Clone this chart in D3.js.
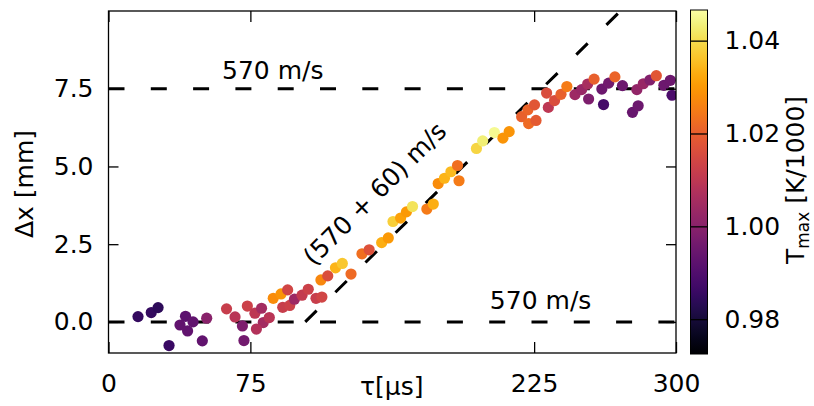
<!DOCTYPE html>
<html>
<head>
<meta charset="utf-8">
<script src="https://cdn.jsdelivr.net/npm/d3@7"></script>
<style>
  html, body { margin: 0; padding: 0; background: #fff; }
  svg { display: block; font-family: "DejaVu Sans", sans-serif; }
</style>
</head>
<body>
<svg id="chart" width="814" height="406"></svg>
<script>
// ---------------- data ----------------
const tau = [15.6, 22.6, 26.2, 32.0, 40.7, 37.8, 41.8, 44.7, 49.6, 51.9,
  62.4, 66.9, 70.8, 71.6, 73.4, 77.4, 80.9, 81.8, 78.2, 85.0,
  87.1, 91.2, 94.7, 92.1, 95.8, 98.3, 102.3, 105.6, 109.7, 112.8,
  112.3, 115.9, 120.0, 123.6, 128.2, 134.0, 137.8, 144.4, 147.9, 150.4,
  154.4, 157.5, 160.7, 168.3, 171.7, 174.3, 177.6, 181.0, 184.5, 185.3,
  194.5, 197.8, 204.0, 208.5, 211.8, 218.4, 222.1, 221.7, 225.2, 226.0,
  231.6, 232.5, 235.8, 239.2, 242.3, 246.6, 250.1, 253.3, 256.7, 253.8,
  261.7, 260.8, 264.4, 267.7, 271.7, 277.0, 280.0, 279.3, 282.7, 286.2,
  289.6, 293.6, 297.0, 297.9];
const dx = [0.17, 0.30, 0.46, -0.76, 0.18, -0.10, -0.29, 0.00, -0.61, 0.12,
  0.42, 0.16, -0.13, -0.60, 0.51, 0.28, 0.44, -0.02, -0.23, 0.14,
  0.76, 0.90, 1.03, 0.47, 0.53, 0.73, 0.86, 1.05, 0.76, 0.80,
  1.35, 1.48, 1.74, 1.88, 1.54, 2.19, 2.32, 2.55, 2.70, 3.23,
  3.34, 3.54, 3.71, 3.63, 3.79, 4.45, 4.62, 4.83, 5.03, 4.54,
  5.58, 5.82, 6.09, 5.91, 6.12, 6.60, 6.38, 6.82, 6.98, 6.48,
  7.36, 6.90, 7.12, 7.32, 7.57, 7.31, 7.47, 7.65, 7.81, 7.17,
  6.99, 7.49, 7.68, 7.88, 7.60, 6.74, 6.95, 7.47, 7.66, 7.78,
  7.92, 7.61, 7.77, 7.29];
const tmax = [0.985, 0.985, 0.984, 0.986, 0.992, 0.993, 0.993, 0.993, 0.993, 1.000,
  1.012, 1.009, 0.998, 0.996, 1.013, 1.010, 1.005, 1.005, 1.008, 1.009,
  1.028, 1.029, 1.014, 1.012, 1.013, 1.004, 1.011, 1.013, 1.012, 1.014,
  1.027, 1.016, 1.034, 1.037, 1.022, 1.023, 1.017, 1.033, 1.030, 1.038,
  1.031, 1.030, 1.041, 1.025, 1.033, 1.028, 1.034, 1.035, 1.023, 1.025,
  1.039, 1.043, 1.045, 1.029, 1.029, 1.020, 1.022, 1.021, 1.018, 1.019,
  1.016, 1.010, 1.016, 1.020, 1.025, 1.004, 1.003, 1.006, 1.020, 0.998,
  0.988, 0.995, 0.996, 1.021, 0.995, 0.994, 0.995, 1.002, 1.003, 0.999,
  1.018, 0.995, 0.995, 0.989];

const xTicks = [0, 75, 225, 300];
const yTicks = [0, 2.5, 5.0, 7.5];
const cTicks = [0.98, 1.00, 1.02, 1.04];
const xDomain = [0, 300];
const yDomain = [-1, 10];
const cDomain = [0.9725, 1.0466];

// reference lines: horizontal levels and the (570 + 60) m/s front
const hLevels = [0, 7.5];
const frontStart = [104, 0];     // tau, dx
const frontSlope = 0.06;         // mm per µs
const labels = [
  {text: "570 m/s", tau: 60, dx: 7.82, rot: 0},
  {text: "570 m/s", tau: 201.6, dx: 0.42, rot: 0},
  {text: "(570 + 60) m/s", tau: 144, dx: 3.93, rot: -45, anchor: "middle"}
];

// ---------------- layout ----------------
const L = 108.5, R = 676, T = 11, B = 353;
const FS = 25;
const svg = d3.select("#chart");

const x = d3.scaleLinear().domain(xDomain).range([L, R]);
const y = d3.scaleLinear().domain(yDomain).range([B, T]);
const color = d3.scaleSequential(d3.interpolateInferno).domain(cDomain);

svg.append("defs").append("clipPath").attr("id", "clip")
  .append("rect").attr("x", L).attr("y", T).attr("width", R - L).attr("height", B - T);

const plot = svg.append("g").attr("clip-path", "url(#clip)");

// dashed reference lines
const dash = "16,26.3";
hLevels.forEach(v => {
  plot.append("line")
    .attr("x1", x(xDomain[0])).attr("x2", x(xDomain[1]))
    .attr("y1", y(v)).attr("y2", y(v))
    .attr("stroke", "#000").attr("stroke-width", 3)
    .attr("stroke-dasharray", dash);
});
const frontEndTau = frontStart[0] + (yDomain[1] + 0.5 - frontStart[1]) / frontSlope;
plot.append("line")
  .attr("x1", x(frontStart[0])).attr("y1", y(frontStart[1]))
  .attr("x2", x(frontEndTau)).attr("y2", y(yDomain[1] + 0.5))
  .attr("stroke", "#000").attr("stroke-width", 3)
  .attr("stroke-dasharray", dash);

// points
const pts = tau.map((t, i) => ({t, d: dx[i], c: tmax[i]}));
plot.selectAll("circle.pt").data(pts).enter().append("circle")
  .attr("class", "pt")
  .attr("cx", d => x(d.t)).attr("cy", d => y(d.d))
  .attr("r", 5.6)
  .attr("fill", d => color(d.c));

// frame
svg.append("rect").attr("x", L).attr("y", T).attr("width", R - L).attr("height", B - T)
  .attr("fill", "none").attr("stroke", "#000").attr("stroke-width", 1.3);

// axes (inward ticks)
function styleAxis(g) {
  g.select(".domain").remove();
  g.selectAll(".tick line").attr("stroke", "#000").attr("stroke-width", 1.3);
  g.selectAll(".tick text").attr("fill", "#000").style("font-size", FS + "px")
    .style("font-family", "DejaVu Sans");
}
svg.append("g").attr("transform", `translate(0,${B})`)
  .call(d3.axisBottom(x).tickValues(xTicks).tickFormat(d3.format("d")).tickSize(-11).tickPadding(21))
  .call(styleAxis);
svg.append("g").attr("transform", `translate(0,${T})`)
  .call(d3.axisTop(x).tickValues(xTicks).tickFormat("").tickSize(-11))
  .call(styleAxis);
svg.append("g").attr("transform", `translate(${L},0)`)
  .call(d3.axisLeft(y).tickValues(yTicks).tickFormat(d3.format(".1f")).tickSize(-10).tickPadding(15))
  .call(styleAxis);
svg.append("g").attr("transform", `translate(${R},0)`)
  .call(d3.axisRight(y).tickValues(yTicks).tickFormat("").tickSize(-10))
  .call(styleAxis);

// annotations
labels.forEach(lb => {
  const px = x(lb.tau), py = y(lb.dx);
  svg.append("text")
    .attr("transform", `translate(${px},${py}) rotate(${lb.rot})`)
    .attr("text-anchor", lb.anchor || "start")
    .style("font-size", FS + "px")
    .text(lb.text);
});

// axis labels
svg.append("text").attr("x", (L + R) / 2 - 0.5).attr("y", 395)
  .attr("text-anchor", "middle").style("font-size", FS + "px").text("τ[µs]");
svg.append("text").attr("transform", "translate(33,184) rotate(-90)")
  .attr("text-anchor", "middle").style("font-size", FS + "px").text("Δx [mm]");

// ---------------- colorbar ----------------
const CL = 690.5, CW = 17, CT = 10, CB = 354;
const cy = d3.scaleLinear().domain(cDomain).range([CB, CT]);
const grad = svg.select("defs").append("linearGradient").attr("id", "cbgrad")
  .attr("x1", 0).attr("y1", 1).attr("x2", 0).attr("y2", 0);
d3.range(0, 1.0001, 0.02).forEach(f => {
  grad.append("stop").attr("offset", f).attr("stop-color", d3.interpolateInferno(f));
});
svg.append("rect").attr("x", CL).attr("y", CT).attr("width", CW).attr("height", CB - CT)
  .attr("fill", "url(#cbgrad)").attr("stroke", "#000").attr("stroke-width", 1);
const cAxis = svg.append("g").attr("transform", `translate(${CL + CW},0)`)
  .call(d3.axisRight(cy).tickValues(cTicks).tickFormat(d3.format(".2f")).tickSize(-CW).tickPadding(17));
cAxis.select(".domain").remove();
cAxis.selectAll(".tick line").attr("stroke", "#000").attr("stroke-width", 1.3);
cAxis.selectAll(".tick text").attr("fill", "#000").style("font-size", FS + "px")
  .style("font-family", "DejaVu Sans");

const cl = svg.append("text").attr("transform", "translate(804,180) rotate(-90)")
  .attr("text-anchor", "middle").style("font-size", FS + "px");
cl.append("tspan").text("T");
cl.append("tspan").attr("dy", 5).style("font-size", "17px").text("max");
cl.append("tspan").attr("dy", -5).text(" [K/1000]");
</script>
</body>
</html>
